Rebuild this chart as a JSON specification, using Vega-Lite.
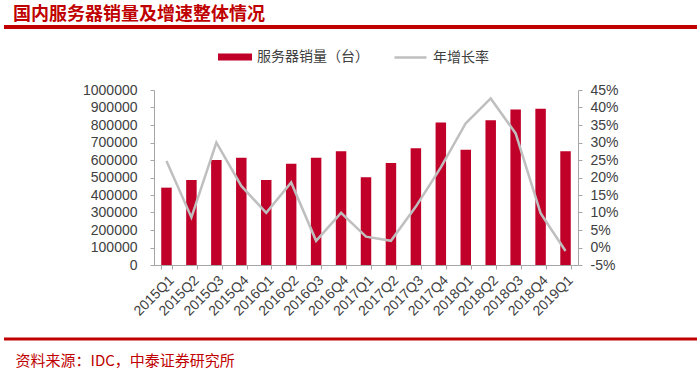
{
  "$schema": "https://vega.github.io/schema/vega-lite/v6.json",
  "width": 424,
  "height": 175,
  "autosize": {"type": "none"},
  "padding": {"left": 154, "top": 90, "right": 122, "bottom": 105},
  "background": "white",
  "title": {
    "text": "国内服务器销量及增速整体情况",
    "anchor": "start",
    "frame": "group",
    "orient": "top",
    "dx": -141,
    "offset": 1,
    "baseline": "top",
    "font": "Noto Sans CJK SC",
    "fontSize": 18,
    "fontWeight": "bold",
    "color": "#C00000"
  },
  "data": {
    "values": [
      {"q": "2015Q1", "sales": 442000, "growth": 24.7},
      {"q": "2015Q2", "sales": 486000, "growth": 8.6},
      {"q": "2015Q3", "sales": 600000, "growth": 30.0},
      {"q": "2015Q4", "sales": 613000, "growth": 17.6},
      {"q": "2016Q1", "sales": 486000, "growth": 9.9},
      {"q": "2016Q2", "sales": 579000, "growth": 18.6},
      {"q": "2016Q3", "sales": 613000, "growth": 1.9},
      {"q": "2016Q4", "sales": 650000, "growth": 9.9},
      {"q": "2017Q1", "sales": 501000, "growth": 3.1},
      {"q": "2017Q2", "sales": 583000, "growth": 1.9},
      {"q": "2017Q3", "sales": 667000, "growth": 11.7},
      {"q": "2017Q4", "sales": 815000, "growth": 22.9},
      {"q": "2018Q1", "sales": 659000, "growth": 35.5},
      {"q": "2018Q2", "sales": 827000, "growth": 42.6},
      {"q": "2018Q3", "sales": 889000, "growth": 32.6},
      {"q": "2018Q4", "sales": 893000, "growth": 9.8},
      {"q": "2019Q1", "sales": 650000, "growth": -1.0}
    ]
  },
  "config": {
    "view": {"stroke": null},
    "axis": {
      "grid": false,
      "labelFont": "Liberation Sans",
      "labelFontSize": 14,
      "labelColor": "#404040",
      "domainColor": "#A6A6A6",
      "tickColor": "#A6A6A6",
      "tickSize": 4
    },
    "legend": {
      "labelFont": "Noto Sans CJK SC",
      "labelFontSize": 14,
      "labelColor": "#404040",
      "padding": 0
    }
  },
  "encoding": {
    "x": {
      "field": "q",
      "type": "ordinal",
      "sort": null,
      "scale": {"paddingInner": 0.58, "paddingOuter": 0.29},
      "axis": {
        "labelAngle": -45,
        "tickBand": "extent",
        "labelPadding": 4,
        "title": "资料来源：IDC，中泰证券研究所",
        "titleX": -139,
        "titleY": 95,
        "titleAlign": "left",
        "titleBaseline": "middle",
        "titleAngle": 0,
        "titleFont": "Noto Sans CJK SC",
        "titleFontSize": 15,
        "titleFontWeight": "normal",
        "titleColor": "#C00000"
      }
    }
  },
  "layer": [
    {
      "mark": {"type": "bar"},
      "encoding": {
        "y": {
          "field": "sales",
          "type": "quantitative",
          "scale": {"domain": [0, 1000000]},
          "axis": {
            "title": null,
            "values": [0, 100000, 200000, 300000, 400000, 500000, 600000, 700000, 800000, 900000, 1000000],
            "format": "d",
            "labelPadding": 13
          }
        },
        "fill": {
          "datum": "服务器销量（台）",
          "type": "nominal",
          "scale": {"range": ["#C00028"]},
          "legend": {
            "title": null,
            "orient": "none",
            "legendX": 64,
            "legendY": -50,
            "symbolType": "M-1,-0.2h2v0.4h-2z",
            "symbolSize": 1156,
            "symbolStrokeWidth": 0,
            "labelOffset": 5
          }
        }
      }
    },
    {
      "mark": {"type": "line", "strokeWidth": 2.5},
      "encoding": {
        "y": {
          "field": "growth",
          "type": "quantitative",
          "scale": {"domain": [-5, 45]},
          "axis": {
            "orient": "right",
            "title": null,
            "values": [-5, 0, 5, 10, 15, 20, 25, 30, 35, 40, 45],
            "labelExpr": "datum.value + '%'",
            "labelPadding": 8
          }
        },
        "stroke": {
          "datum": "年增长率",
          "type": "nominal",
          "scale": {"range": ["#BFBFBF"]},
          "legend": {
            "title": null,
            "orient": "none",
            "legendX": 239,
            "legendY": -50,
            "symbolType": "stroke",
            "symbolSize": 1024,
            "symbolStrokeWidth": 2.5,
            "labelOffset": 5
          }
        }
      }
    },
    {
      "data": {"values": [{"deco": "header"}]},
      "mark": {"type": "rule", "color": "#C00000", "strokeWidth": 4},
      "encoding": {
        "x": {"value": -150},
        "x2": {"value": 543},
        "y": {"value": -63}
      }
    },
    {
      "data": {"values": [{"deco": "footer"}]},
      "mark": {"type": "rule", "color": "#C00000", "strokeWidth": 3},
      "encoding": {
        "x": {"value": -150},
        "x2": {"value": 543},
        "y": {"value": 249}
      }
    }
  ],
  "resolve": {"scale": {"y": "independent"}}
}
